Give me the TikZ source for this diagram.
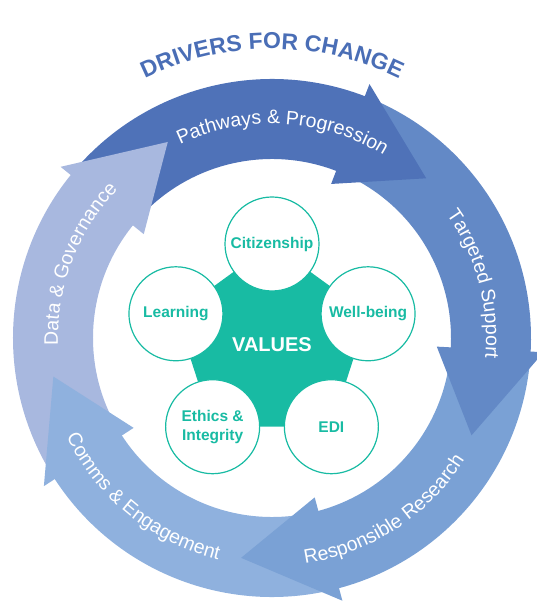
\documentclass[tikz,border=0pt]{standalone}
\usepackage{fontspec}
\setmainfont{Liberation Sans}
\usepackage{tikz}
\usetikzlibrary{positioning}
\usetikzlibrary{shapes.geometric}
\usetikzlibrary{decorations.text}

\definecolor{pathc}{RGB}{79,114,184}
\definecolor{targc}{RGB}{99,137,198}
\definecolor{respc}{RGB}{122,161,213}
\definecolor{commc}{RGB}{143,177,222}
\definecolor{datac}{RGB}{168,184,223}
\definecolor{titlec}{RGB}{74,110,182}
\definecolor{valc}{RGB}{24,187,163}

\begin{document}
\begin{tikzpicture}[x=1pt, y=1pt,
    value/.style={draw=valc, line width=1.2pt, fill=white, circle, minimum size=94pt, inner sep=0pt,
      text=valc, align=center, font=\bfseries\fontsize{15.5}{19}\selectfont},
    ringtext/.style={decorate, decoration={text along path, text align=center,
      text={|\color{white}\fontsize{19.5}{19.5}\selectfont|#1}}}]
            \useasboundingbox (-272,-263) rectangle (264,338);

            % Anillo
            \foreach \t/\c in {46/pathc, 334/targc, 262/respc, 190/commc, 118/datac}
              \fill[\c] ({\t+92}:259) arc[start angle=\t+92, end angle=\t+21, radius=259]
                -- ({\t+21}:179) arc[start angle=\t+21, end angle=\t+92, radius=179] -- cycle;
            \foreach \t/\c in {46/pathc, 334/targc, 262/respc, 190/commc, 118/datac}
              \fill[\c] ({\t+23}:272) -- (\t:222) -- ({\t+23}:165) -- cycle;

            % Textos del anillo
            \path[ringtext={Pathways {\&} Progression}] (127:214) arc[start angle=127, end angle=47, radius=214];
            \path[ringtext={Targeted Support}] (55:214) arc[start angle=55, end angle=-25, radius=214];
            \path[ringtext={Responsible Research}] (263:228) arc[start angle=263, end angle=343, radius=228];
            \path[ringtext={Comms {\&} Engagement}] (191:228) arc[start angle=191, end angle=271, radius=228];
            \path[ringtext={Data {\&} Governance}] (199:214) arc[start angle=199, end angle=119, radius=214];

            % Titulo
            \path[decorate, decoration={text along path, text align=center,
              text={|\color{titlec}\bfseries\fontsize{23}{23}\selectfont|DRIVERS FOR CHANGE}}]
              (125:289) arc[start angle=125, end angle=55, radius=289];

            % Valores
            \node[regular polygon, regular polygon sides=5, minimum size=202pt, inner sep=0pt, outer sep=0pt,
              fill=valc, text=white, font=\bfseries\fontsize{20}{20}\selectfont] (pent) at (0,-7) {VALUES};
            \node[value] (cit) at (pent.corner 1) {Citizenship};
            \node[value] (learn) at (pent.corner 2) {Learning};
            \node[value] (eth) at (pent.corner 3) {Ethics \&\\Integrity};
            \node[value] (edi) at (pent.corner 4) {EDI};
            \node[value] (well) at (pent.corner 5) {Well-being};
          \end{tikzpicture}
\end{document}
